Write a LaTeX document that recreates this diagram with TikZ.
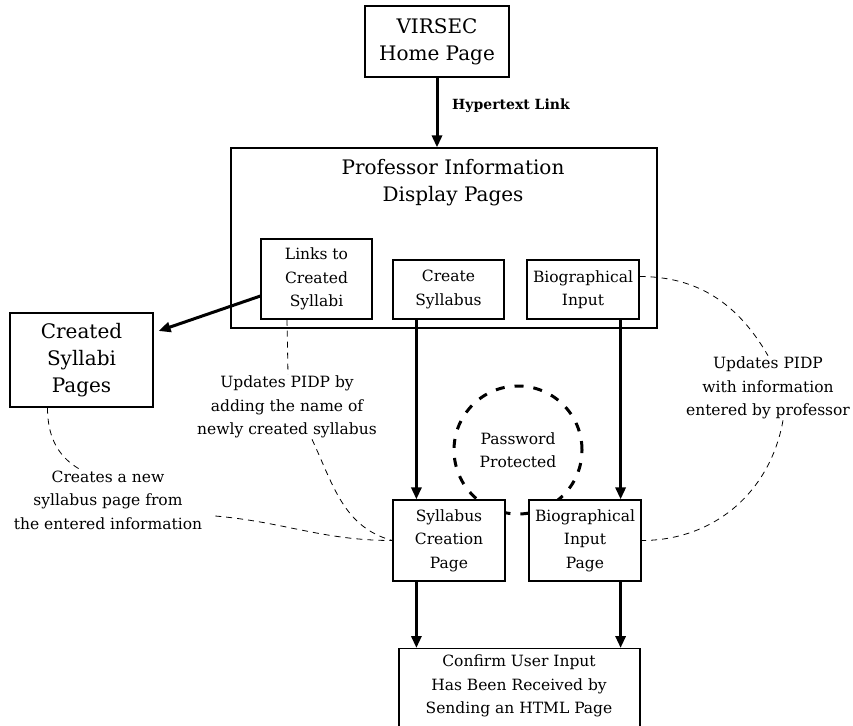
\documentclass[tikz,border=0pt]{standalone}
\usepackage{fontspec}
\setmainfont{DejaVu Serif}
\usepackage{tikz}
\usetikzlibrary{arrows.meta}

\newcommand{\bigsize}{\fontsize{20}{27}\selectfont}
\newcommand{\smallsize}{\fontsize{15.5}{23.5}\selectfont}

\begin{document}
\begin{tikzpicture}[x=1pt, y=-1pt,
    box/.style={draw, line width=1.2pt, fill=white, inner sep=0pt, align=center},
    bigbox/.style={box, font=\bigsize},
    smallbox/.style={box, font=\smallsize},
    note/.style={align=center, font=\smallsize, inner sep=1pt},
    flow/.style={line width=3pt, -{Triangle[length=12pt,width=10pt]}},
    remark/.style={line width=0.8pt, dash pattern=on 6pt off 5pt}]
    \useasboundingbox (0,0) rectangle (853,725);

    % Password ring (behind the page boxes)
    \node[draw, circle, line width=3pt, dash pattern=on 9pt off 10pt,
          minimum size=128pt, font=\smallsize, align=center] (pwd) at (518,450) {Password\\Protected};

    % Home page
    \node[bigbox, minimum width=144pt, minimum height=71pt] (virsec) at (437,41.5) {VIRSEC\\Home Page};

    % Professor information display pages
    \node[box, minimum width=426pt, minimum height=180pt] (pidp) at (444,238) {};
    \node[font=\bigsize, align=center] (pidptitle) at (453,183) {Professor Information\\Display Pages};
    \node[smallbox, minimum width=111pt, minimum height=80pt] (links) at (316.5,279) {Links to\\Created\\Syllabi};
    \node[smallbox, minimum width=111pt, minimum height=59pt] (create) at (448.5,289.5) {Create\\Syllabus};
    \node[smallbox, minimum width=112pt, minimum height=59pt] (bio) at (583,289.5) {Biographical\\Input};

    % Created syllabi
    \node[bigbox, minimum width=143pt, minimum height=94pt] (created) at (81.5,360) {Created\\Syllabi\\Pages};

    % Input pages
    \node[smallbox, minimum width=112pt, minimum height=81pt] (scpage) at (449,540.5) {Syllabus\\Creation\\Page};
    \node[smallbox, minimum width=112pt, minimum height=81pt] (bipage) at (585,540.5) {Biographical\\Input\\Page};

    % Confirmation page
    \node[box, minimum width=241pt, minimum height=100pt, anchor=north] (confirm) at (519.5,648) {};
    \node[note] (confirmtext) at (519,686) {Confirm User Input\\Has Been Received by\\Sending an HTML Page};

    % Remarks
    \node[note] (updA) at (287,407) {Updates PIDP by\\adding the name of\\newly created syllabus};
    \node[note] (crA) at (108,500) {Creates a new\\syllabus page from\\the entered information};
    \node[note] (updB) at (768,388) {Updates PIDP\\with information\\entered by professor};

    % Links
    \draw[flow] (virsec.south) -- (virsec.south |- pidp.north);
    \node[font=\fontsize{14}{16}\selectfont\bfseries] (hyper) at (511,106) {Hypertext Link};
    \draw[flow] ([yshift=-17pt]links.west) -- ([xshift=5pt,yshift=29pt]created.east);
    \draw[flow] ([xshift=24pt]create.south west) -- ([xshift=24pt]create.south west |- scpage.north);
    \draw[flow] ([xshift=-19pt]bio.south east) -- ([xshift=-19pt]bio.south east |- bipage.north);
    \draw[flow] ([xshift=24pt]scpage.south west) -- ([xshift=24pt]scpage.south west |- confirm.north);
    \draw[flow] ([xshift=-21pt]bipage.south east) -- ([xshift=-21pt]bipage.south east |- confirm.north);

    % Dashed remarks
    \draw[remark] ([xshift=-29.5pt]links.south) -- ([xshift=1pt]updA.north);
    \draw[remark] ([xshift=25pt]updA.south) to[out=-65,in=165] (scpage.west);
    \draw[remark] ([xshift=-34pt]created.south) to[out=-90,in=150] ([xshift=-28pt]crA.north);
    \draw[remark] ([xshift=12pt,yshift=-16pt]crA.east) to[out=-5,in=180] (scpage.west);
    \draw[remark] ([yshift=13pt]bio.east) to[out=0,in=120] (updB.north);
    \draw[remark] ([xshift=15pt]updB.south) to[out=-100,in=0] (bipage.east);
\end{tikzpicture}
\end{document}
